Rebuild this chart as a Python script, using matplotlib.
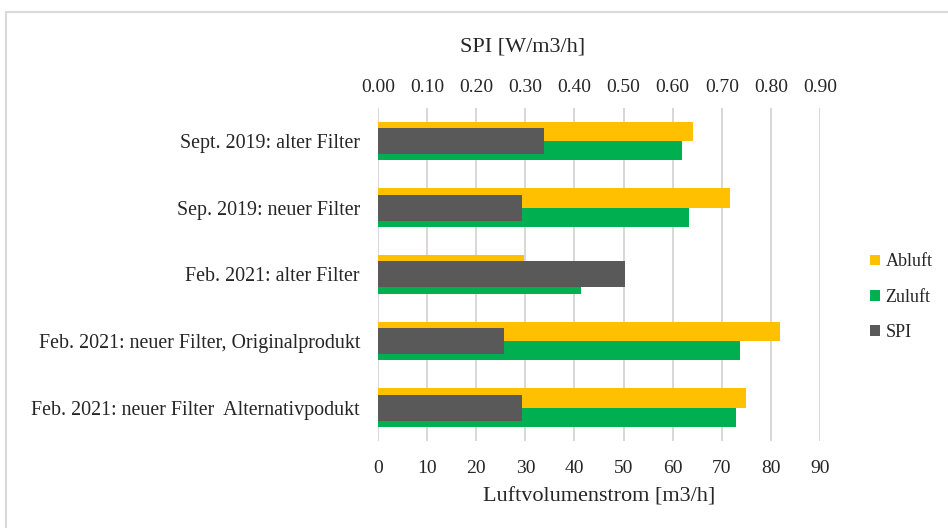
import matplotlib.pyplot as plt
from matplotlib.patches import Rectangle
import numpy as np

plt.rcParams['font.family'] = ['Liberation Serif', 'DejaVu Serif']

categories = [
    'Sept. 2019: alter Filter',
    'Sep. 2019: neuer Filter',
    'Feb. 2021: alter Filter',
    'Feb. 2021: neuer Filter, Originalprodukt',
    'Feb. 2021: neuer Filter  Alternativpodukt',
]
abluft = [64.1, 71.7, 29.7, 81.9, 74.9]
zuluft = [62.0, 63.3, 41.3, 73.7, 72.8]
spi = [0.337, 0.293, 0.502, 0.257, 0.293]

flow_ticks = list(range(0, 100, 10))
spi_ticks = [i / 10 for i in range(10)]

c_ab = '#FFC000'
c_zu = '#00B050'
c_spi = '#595959'
txt = '#262626'

fig = plt.figure(figsize=(9.48, 5.28), dpi=100)
ax = fig.add_axes([378 / 948, 87 / 528, 442 / 948, 333.3 / 528])

y = np.arange(len(categories))
h = 0.29
ax.barh(y - h / 2, abluft, height=h, color=c_ab, label='Abluft', zorder=2)
ax.barh(y + h / 2, zuluft, height=h, color=c_zu, label='Zuluft', zorder=2)
ax.set_xlim(0, 90)
ax.set_ylim(len(categories) - 0.5, -0.5)
ax.set_xticks(flow_ticks)
ax.set_yticks(y)
ax.set_yticklabels(categories, fontsize=14.4)
ax.grid(axis='x', color='#D4D4D4', linewidth=1.3, zorder=0)
ax.set_axisbelow(True)
ax.tick_params(axis='x', length=0, labelsize=14, pad=14, colors=txt)
ax.tick_params(axis='y', length=0, pad=13, colors=txt)
for s in ax.spines.values():
    s.set_visible(False)

ax2 = ax.twiny()
ax2.barh(y, spi, height=0.39, color=c_spi, label='SPI', zorder=3)
ax2.set_xlim(0, 0.9)
ax2.set_xticks(spi_ticks)
ax2.set_xticklabels([f'{t:.2f}' for t in spi_ticks])
ax2.tick_params(length=0, labelsize=14, pad=8.5, colors=txt)
for s in ax2.spines.values():
    s.set_visible(False)

# axis titles placed where the reference puts them
fig.text(523 / 948, 1 - 46.7 / 528, 'SPI [W/m3/h]', fontsize=16,
         ha='center', va='center', color=txt)
fig.text(599 / 948, 1 - 496.7 / 528, 'Luftvolumenstrom [m3/h]', fontsize=16,
         ha='center', va='center', color=txt)

handles = [ax.patches[0], ax.patches[len(categories)], ax2.patches[0]]
fig.legend(handles, ['Abluft', 'Zuluft', 'SPI'], loc='center left',
           bbox_to_anchor=(870 / 948, 1 - 297 / 528), frameon=False,
           fontsize=13, handlelength=0.55, handleheight=0.55,
           handletextpad=0.3, labelspacing=1.0, borderpad=0,
           borderaxespad=0, labelcolor=txt)

fig.patches.append(Rectangle((6 / 948, -0.1), 1.1, 1 - 12 / 528 + 0.1,
                             transform=fig.transFigure, fill=False,
                             edgecolor='#D9D9D9', linewidth=1.5))

fig.savefig('out.png', dpi=100)
